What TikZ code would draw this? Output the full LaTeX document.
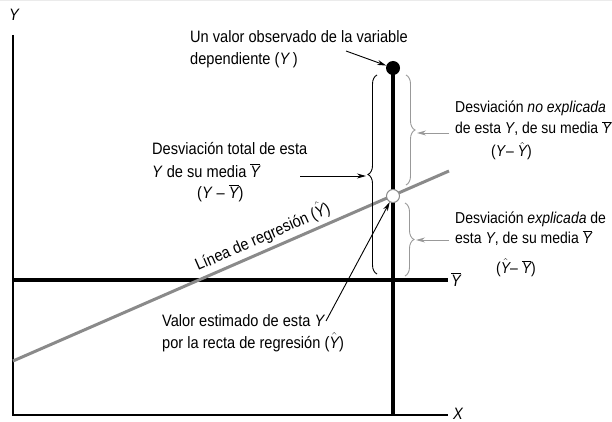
\documentclass[tikz,border=0pt]{standalone}
\usepackage{fontspec}
\setmainfont{Liberation Sans}[FakeStretch=0.885]
\usetikzlibrary{arrows.meta,decorations.pathreplacing}
\newcommand\ybar{$\overline{\mbox{\itshape Y}}$}
\newcommand\yhat{$\hat{\mbox{\itshape Y}}$}
\definecolor{lgray}{HTML}{8A8A8A}
\definecolor{bgray}{HTML}{999999}
\begin{document}
\begin{tikzpicture}[x=1pt,y=-1pt,
  lbl/.style={anchor=base west,inner sep=0pt,font=\fontsize{16.5}{19}\selectfont},
  rlbl/.style={lbl,font=\fontsize{15.8}{19}\selectfont},
  axis/.style={line width=1.6pt,black},
  thick line/.style={line width=3.2pt,black},
  arr/.style={line width=0.9pt,-{Stealth[length=9pt,width=5pt]}},
  garr/.style={line width=0.9pt,bgray,-{Stealth[length=9pt,width=5pt]}},
  brc/.style={decorate,decoration={brace,amplitude=9pt},line width=0.9pt}]
\useasboundingbox (0,0) rectangle (612,422);
\draw[line width=1pt,black!8] (0,0.5) -- (612,0.5);
% axes
\coordinate (o) at (13,415);
\coordinate (ytop) at (13,35);
\coordinate (xend) at (448,415);
\draw[axis] (ytop) -- (o) -- (xend);
\node[lbl,anchor=base] (ylab) at (14,21) {\itshape Y};
\node[lbl] (xlab) at (453,419) {\itshape X};
% mean line
\coordinate (m1) at (13,280);
\coordinate (m2) at (448,280);
\draw[thick line] (m1) -- (m2);
\node[lbl] (mlab) at (451,286) {\ybar};
% regression line
\coordinate (r1) at (13,361);
\coordinate (r2) at (449,171);
\draw[line width=3pt,lgray] (r1) -- (r2);
\node[lbl,rotate=23.6] (rlab) at (198,271) {Línea de regresión (\yhat)};
% vertical line and points
\coordinate (vb) at (393,415);
\coordinate (vt) at (393,68);
\draw[thick line] (vt) -- (vb);
\node[circle,fill=black,inner sep=0pt,minimum size=14pt] (obs) at (393,68) {};
\node[circle,fill=white,draw=lgray,line width=1pt,inner sep=0pt,minimum size=13pt] (fit) at (393,196) {};
% braces
\draw[brc,black] (377,274) -- (377,75);
\draw[brc,bgray] (406,75) -- (406,185);
\draw[brc,bgray] (405,203) -- (405,276);
% texts
\node[lbl] (obs1) at (190,43) {Un valor observado de la variable};
\node[lbl] (obs2) at (190,65) {dependiente (\textit{Y}\,)};
\node[lbl] (tot1) at (152,155) {Desviación total de esta};
\node[lbl] (tot2) at (152,177) {\textit{Y} de su media \ybar};
\node[lbl] (tot3) at (197,198) {(\textit{Y} – \ybar)};
\node[rlbl] (ne1) at (455,113) {Desviación \textit{no explicada}};
\node[rlbl] (ne2) at (455,134) {de esta \textit{Y}, de su media \ybar};
\node[rlbl] (ne3) at (491,157) {(\textit{Y}– \yhat)};
\node[rlbl] (ex1) at (455,223) {Desviación \textit{explicada} de};
\node[rlbl] (ex2) at (455,243) {esta \textit{Y}, de su media \ybar};
\node[rlbl] (ex3) at (496,273) {(\yhat– \ybar)};
\node[lbl] (est1) at (162,326) {Valor estimado de esta \textit{Y}};
\node[lbl] (est2) at (162,348) {por la recta de regresión (\yhat)};
% arrows
\coordinate (a1) at (346,51);
\draw[arr] (a1) -- (obs);
\coordinate (a2s) at (300,176);
\coordinate (a2e) at (366,176);
\draw[arr] (a2s) -- (a2e);
\coordinate (a3) at (326,321);
\draw[arr] (a3) -- (fit);
\coordinate (g1s) at (449,133);
\coordinate (g1e) at (417,133);
\draw[garr] (g1s) -- (g1e);
\coordinate (g2s) at (449,240);
\coordinate (g2e) at (416,240);
\draw[garr] (g2s) -- (g2e);
\end{tikzpicture}
\end{document}
